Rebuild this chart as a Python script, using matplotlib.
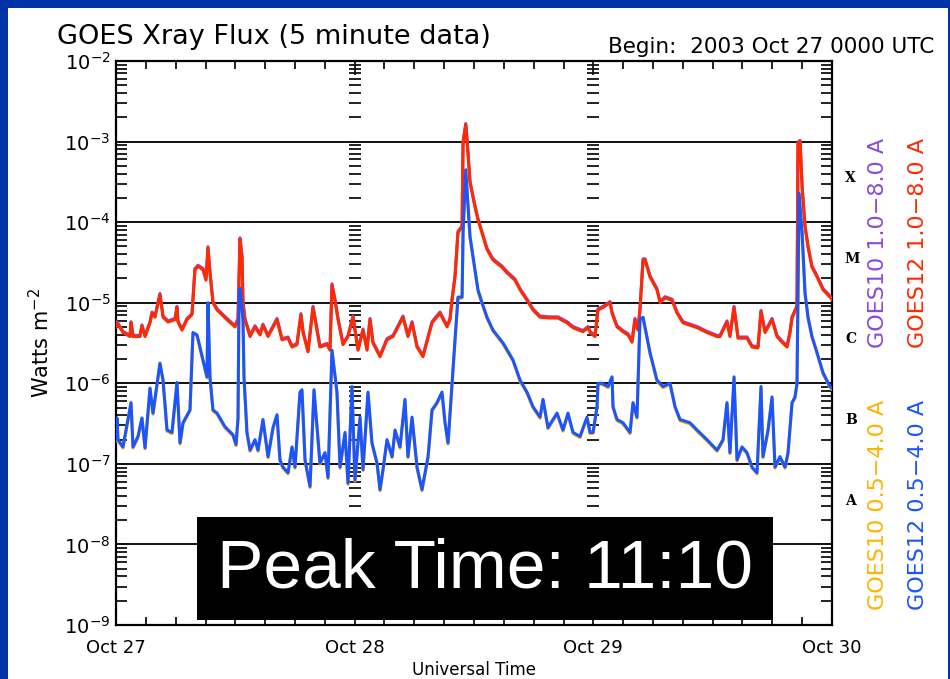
import numpy as np
import matplotlib
matplotlib.use("Agg")
from matplotlib import pyplot as plt
from matplotlib.patches import Rectangle
from matplotlib.ticker import FixedLocator, LogLocator, NullFormatter
import matplotlib.transforms as mtransforms

#----------------- Data (hours since 2003 Oct 27 00:00 UTC, log10 of flux in W m^-2) -----------------#

# 1.0-8.0 A long channel
t_long = [0.0, 0.1, 0.7, 1.41, 1.51, 1.71, 2.41, 2.61, 2.92, 3.42, 3.62, 3.92, 4.42, 4.73, 5.23,
          5.93, 6.13, 6.23, 6.64, 7.14, 7.64, 7.94, 8.25, 8.75, 9.05, 9.25, 9.45, 9.75, 10.16,
          11.16, 11.97, 12.27, 12.47, 12.67, 12.77, 12.97, 13.48, 13.98, 14.48, 14.78, 15.29,
          16.19, 16.69, 17.30, 17.70, 18.20, 18.60, 18.81, 19.31, 19.81, 20.21, 20.51, 21.22,
          21.52, 21.72, 22.02, 22.33, 22.83, 23.33, 23.83, 24.03, 24.34, 24.84, 25.24, 25.54,
          25.84, 26.55, 27.25, 27.86, 28.86, 29.36, 29.77, 30.27, 30.87, 31.78, 32.58, 33.29,
          33.59, 33.79, 34.09, 34.39, 34.80, 34.90, 35.17, 35.30, 35.60, 36.10, 36.40, 36.91,
          37.31, 37.91, 38.82, 39.32, 40.12, 40.63, 41.33, 41.93, 42.64, 43.64, 44.45, 45.35,
          45.96, 46.96, 47.47, 47.67, 48.17, 48.47, 48.97, 49.68, 49.88, 50.38, 50.98, 51.49,
          51.89, 52.19, 52.49, 52.69, 53.00, 53.20, 53.70, 54.40, 54.71, 55.21, 55.91, 56.42,
          57.02, 57.72, 58.43, 59.43, 60.44, 60.74, 61.44, 61.74, 62.15, 62.55, 63.45, 63.96,
          64.56, 64.86, 65.27, 65.97, 66.47, 66.97, 67.48, 67.78, 67.98, 68.48, 68.58, 68.79,
          68.99, 69.29, 69.59, 69.99, 70.50, 71.10, 71.80, 72.0]
logf_long = [-5.30, -5.25, -5.37, -5.42, -5.25, -5.42, -5.42, -5.29, -5.42, -5.25, -5.13, -5.18,
             -4.90, -5.18, -5.24, -5.21, -5.06, -5.24, -5.34, -5.21, -5.15, -4.59, -4.55, -4.59,
             -4.72, -4.32, -4.63, -5.00, -5.09, -5.21, -5.30, -5.21, -4.21, -4.43, -5.00, -5.21,
             -5.42, -5.30, -5.40, -5.28, -5.42, -5.21, -5.46, -5.44, -5.55, -5.52, -5.15, -5.37,
             -5.61, -5.06, -5.34, -5.55, -5.52, -5.59, -4.78, -4.97, -5.21, -5.52, -5.42, -5.18,
             -5.34, -5.59, -5.34, -5.59, -5.21, -5.50, -5.67, -5.46, -5.42, -5.18, -5.42, -5.25,
             -5.55, -5.67, -5.25, -5.13, -5.30, -5.21, -4.97, -4.68, -4.13, -4.06, -3.02, -2.79,
             -2.98, -3.51, -3.81, -3.97, -4.18, -4.34, -4.47, -4.56, -4.63, -4.72, -4.84, -4.97,
             -5.09, -5.18, -5.19, -5.19, -5.25, -5.31, -5.36, -5.31, -5.37, -5.42, -5.09, -5.06,
             -5.00, -5.13, -5.30, -5.36, -5.40, -5.49, -5.21, -5.34, -5.09, -4.47, -4.47, -4.68,
             -4.84, -5.00, -4.94, -4.97, -5.13, -5.25, -5.28, -5.31, -5.37, -5.42, -5.42, -5.24,
             -5.42, -5.06, -5.44, -5.44, -5.55, -5.56, -5.11, -5.37, -5.21, -5.42, -5.49, -5.55,
             -5.37, -5.19, -5.05, -3.02, -3.00, -3.56, -4.06, -4.31, -4.56, -4.68, -4.84, -4.93,
             -4.96]

# 0.5-4.0 A short channel
t_short = [0.0, 0.1, 0.2, 0.7, 1.51, 1.71, 2.21, 2.61, 2.92, 3.42, 3.72, 4.42, 4.73, 5.13, 5.63,
           6.13, 6.44, 6.74, 7.44, 7.74, 8.15, 8.75, 9.15, 9.25, 9.45, 9.75, 10.16, 10.96, 11.77,
           12.07, 12.27, 12.37, 12.47, 12.77, 12.87, 13.17, 13.48, 13.98, 14.28, 14.78, 15.29,
           15.79, 16.19, 16.49, 16.79, 17.30, 17.70, 18.00, 18.50, 18.70, 19.01, 19.51, 19.91,
           20.21, 20.51, 21.02, 21.32, 21.72, 22.22, 22.53, 23.03, 23.33, 23.73, 24.03, 24.54,
           24.84, 25.34, 25.74, 26.25, 26.55, 26.85, 27.25, 27.76, 28.06, 28.56, 29.06, 29.36,
           29.77, 30.27, 30.77, 31.38, 31.78, 32.28, 32.78, 33.09, 33.39, 33.79, 34.09, 34.39,
           34.80, 34.90, 35.17, 35.30, 35.60, 36.10, 36.40, 36.81, 37.31, 37.91, 38.92, 39.92,
           40.63, 41.33, 41.93, 42.64, 42.94, 43.44, 44.35, 44.95, 45.45, 45.96, 46.66, 47.36,
           47.67, 47.97, 48.37, 48.47, 48.87, 49.48, 49.88, 49.98, 50.38, 50.98, 51.69, 51.99,
           52.39, 52.69, 53.00, 53.70, 54.40, 55.01, 55.71, 56.22, 56.72, 57.72, 58.43, 59.43,
           60.44, 61.04, 61.44, 61.74, 62.15, 62.45, 62.95, 63.45, 63.96, 64.46, 64.86, 65.06,
           65.57, 65.97, 66.27, 66.77, 67.28, 67.58, 67.98, 68.28, 68.48, 68.69, 68.99, 69.29,
           69.59, 69.99, 70.50, 71.10, 71.80, 72.0]
logf_short = [-6.70, -6.43, -6.70, -6.79, -6.24, -6.79, -6.66, -6.43, -6.80, -6.06, -6.37, -5.75,
              -5.96, -6.58, -6.61, -5.99, -6.74, -6.49, -6.33, -5.37, -5.40, -5.71, -5.92, -5.00,
              -5.92, -6.33, -6.37, -6.54, -6.64, -6.76, -6.43, -4.93, -4.82, -5.21, -5.92, -6.61,
              -6.83, -6.70, -6.83, -6.45, -6.91, -6.55, -6.39, -6.95, -7.04, -7.11, -6.79, -7.04,
              -6.11, -6.08, -6.95, -7.28, -6.08, -6.54, -6.99, -6.86, -7.17, -5.59, -6.11, -7.04,
              -6.61, -7.24, -6.04, -7.20, -6.42, -7.07, -6.11, -6.74, -6.99, -7.32, -7.07, -6.70,
              -6.91, -6.58, -6.79, -6.20, -6.91, -6.42, -7.04, -7.32, -6.91, -6.33, -6.24, -6.11,
              -6.49, -6.74, -6.00, -5.46, -4.93, -4.93, -4.13, -3.35, -3.60, -4.18, -4.59, -4.84,
              -5.00, -5.18, -5.34, -5.50, -5.71, -5.96, -6.11, -6.29, -6.42, -6.20, -6.55, -6.37,
              -6.58, -6.37, -6.61, -6.66, -6.42, -6.61, -6.61, -6.29, -6.00, -6.00, -6.04, -5.92,
              -6.29, -6.45, -6.49, -6.61, -6.24, -6.42, -5.21, -5.18, -5.62, -5.96, -6.04, -6.00,
              -6.29, -6.45, -6.49, -6.58, -6.70, -6.83, -6.70, -6.24, -6.86, -5.92, -6.95, -6.79,
              -6.86, -7.04, -7.11, -6.04, -6.91, -6.58, -6.17, -7.04, -6.91, -7.04, -6.86, -6.24,
              -6.17, -6.00, -3.64, -4.13, -4.88, -5.18, -5.42, -5.62, -5.87, -6.04, -6.06]

day_hours = [0, 24, 48, 72]
day_labels = ["Oct 27", "Oct 28", "Oct 29", "Oct 30"]
classes = ["X", "M", "C", "B", "A"]
class_level = [3.5e-4, 3.5e-5, 3.5e-6, 3.5e-7, 3.5e-8]
peak_text = "Peak Time: 11:10"

#----------------- Figure -----------------#
RED = "#ff2a00"
BLUE = "#1a55ff"
PURPLE = "#8a4ad6"
ORANGE = "#ffb400"
FRAME = "#0033aa"

fig = plt.figure(figsize=(9.5, 6.79), dpi=100, facecolor=FRAME)
# white page inside the blue frame (behind the axes)
fig.patches.append(Rectangle((8 / 950, 0), 940 / 950, 671 / 679, transform=fig.transFigure,
                             facecolor="white", edgecolor="none", zorder=-10))

ax = fig.add_axes([116 / 950, 1 - 625 / 679, 716 / 950, 564 / 679])
ax.set_yscale("log")
ax.set_xlim(0, 72)
ax.set_ylim(1e-9, 1e-2)

f_long = 10 ** np.array(logf_long)
f_short = 10 ** np.array(logf_short)

# GOES10 sits right under GOES12, only its edges show
up = mtransforms.offset_copy(ax.transData, fig=fig, x=0, y=1.2, units="dots")
down = mtransforms.offset_copy(ax.transData, fig=fig, x=0, y=-1.2, units="dots")
ax.plot(t_long, f_long, color=PURPLE, lw=2.2, transform=up, zorder=3)
ax.plot(t_short, f_short, color=ORANGE, lw=2.2, transform=down, zorder=3)
ax.plot(t_long, f_long, color=RED, lw=2.2, zorder=4)
ax.plot(t_short, f_short, color=BLUE, lw=2.2, zorder=4)

# decade lines
for d in range(-8, -2):
    ax.axhline(10.0 ** d, color="#111111", lw=1.4, zorder=2)

# tick marks along the day boundaries
minor_vals = [k * 10.0 ** d for d in range(-9, -2) for k in range(1, 10)] + [1e-2]
for h in day_hours[1:3]:
    ax.plot([h] * len(minor_vals), minor_vals, ls="none", marker="_", ms=8, mew=1.3,
            color="#111111", zorder=2)

# axes and ticks
for s in ax.spines.values():
    s.set_linewidth(1.6)
ax.xaxis.set_major_locator(FixedLocator(day_hours))
ax.xaxis.set_minor_locator(FixedLocator(np.arange(0, 73, 3)))
ax.set_xticklabels(day_labels)
ax.yaxis.set_major_locator(LogLocator(base=10, numticks=10))
ax.yaxis.set_minor_locator(LogLocator(base=10, subs=np.arange(2, 10), numticks=20))
ax.yaxis.set_minor_formatter(NullFormatter())
ax.tick_params(which="both", direction="in", top=True, right=True, width=1.3, color="#111111")
ax.tick_params(axis="y", which="both", length=8, labelsize=14, pad=4)
ax.tick_params(axis="x", which="both", length=6, labelsize=13, pad=10)
ax.tick_params(axis="x", which="major", length=10)

ax.set_xlabel("Universal Time", fontsize=12, labelpad=3)
ax.set_ylabel(r"Watts m$^{-2}$", fontsize=15, labelpad=8)

# flare classes
for c, lev in zip(classes, class_level):
    ax.text(1.018, lev, c, transform=ax.get_yaxis_transform(), fontsize=10,
            fontweight="bold", family="DejaVu Serif", va="center", ha="left")

# channel labels
fig.text(878 / 950, 1 - 243 / 679, "GOES10 1.0\u22128.0 A", rotation=90, color=PURPLE,
         fontsize=16, ha="center", va="center")
fig.text(918 / 950, 1 - 243 / 679, "GOES12 1.0\u22128.0 A", rotation=90, color=RED,
         fontsize=16, ha="center", va="center")
fig.text(878 / 950, 1 - 505 / 679, "GOES10 0.5\u22124.0 A", rotation=90, color=ORANGE,
         fontsize=16, ha="center", va="center")
fig.text(918 / 950, 1 - 505 / 679, "GOES12 0.5\u22124.0 A", rotation=90, color=BLUE,
         fontsize=16, ha="center", va="center")

fig.text(57 / 950, 1 - 44 / 679, "GOES Xray Flux (5 minute data)", fontsize=19.5, va="baseline")
fig.text(608 / 950, 1 - 53 / 679, "Begin:  2003 Oct 27 0000 UTC", fontsize=15.5, va="baseline")

# peak time box
fig.patches.append(Rectangle((197 / 950, 1 - 620 / 679), 576 / 950, 103 / 679,
                             transform=fig.transFigure, facecolor="black", edgecolor="none",
                             zorder=10))
fig.text(485 / 950, 1 - 569 / 679, peak_text, color="white", fontsize=50,
         family="Liberation Sans", ha="center", va="center", zorder=11)

fig.savefig("out.png", dpi=100, facecolor=FRAME)
